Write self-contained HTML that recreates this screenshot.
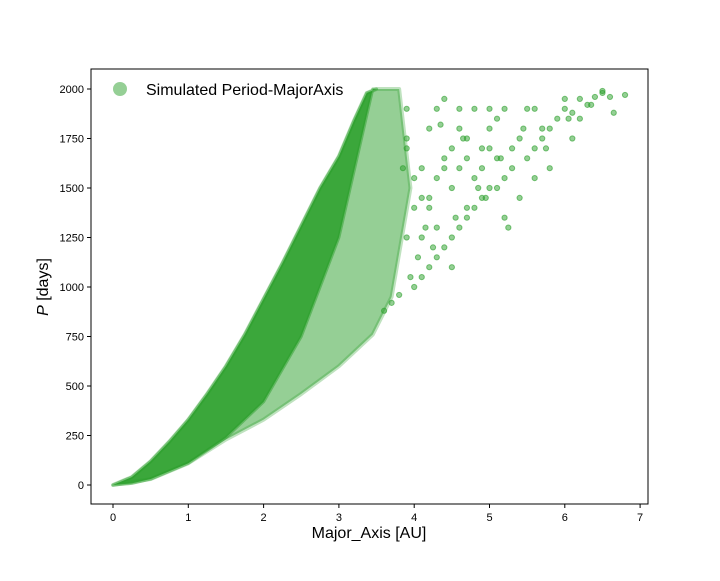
<!DOCTYPE html>
<html><head><meta charset="utf-8"><style>
body{margin:0;background:#fff;font-family:"Liberation Sans",sans-serif}
svg text{font-family:"Liberation Sans",sans-serif}
</style></head><body>
<svg id="chart" width="720" height="576" xmlns="http://www.w3.org/2000/svg">
<rect width="720" height="576" fill="#fff"/>
<g id="plot"></g>
<rect x="91" y="69" width="557" height="435" fill="none" stroke="#000" stroke-width="1"/>
<g id="axes"></g>
<text x="369" y="538" font-size="16" text-anchor="middle">Major_Axis [AU]</text>
<text transform="translate(48,287) rotate(-90)" font-size="16" text-anchor="middle"><tspan font-style="italic">P</tspan> [days]</text>
<g>
<circle cx="120" cy="89" r="7" fill="#2ca02c" fill-opacity="0.5"/>
<text x="146" y="95" font-size="16">Simulated Period-MajorAxis</text>
</g>
</svg>
<script>
const xTicks=[0,1,2,3,4,5,6,7];
const yTicks=[0,250,500,750,1000,1250,1500,1750,2000];
// upper edge of the point cloud
const upperA=[0,0.25,0.5,0.75,1,1.25,1.5,1.75,2,2.25,2.5,2.75,3,3.2,3.37,3.5];
const upperP=[0,40,120,220,330,460,600,760,940,1120,1310,1500,1660,1840,1980,2000];
// lower edge of solid (very dense) region
const solidLowA=[3.45,3.3,3,2.5,2,1.5,1,0.5,0.25,0];
const solidLowP=[2000,1750,1250,750,420,240,110,30,8,0];
// lower edge of medium density region
const medLowA=[3.8,3.95,3.7,3.45,3,2.5,2,1.5,1,0.5,0];
const medLowP=[2000,1500,950,760,600,460,330,230,110,30,0];
// sparse scattered points [a,P]
const ptsA=[3.6,3.7,3.8,3.9,3.9,4.0,4.0,4.1,4.1,4.2,4.2,4.3,4.3,4.4,4.4,4.5,4.5,4.6,4.6,4.7,4.7,4.8,4.8,4.9,4.9,5.0,5.0,5.1,5.1,5.2,5.2,5.3,5.4,5.4,5.5,5.6,5.6,5.7,5.8,5.9,6.0,6.1,6.2,6.3,6.4,6.5,6.6,6.8,3.9,4.1,4.3,4.5,4.7,4.9,5.1,5.3,5.5,5.7,6.0,6.2,6.5,4.2,4.4,4.6,4.8,5.0,4.1,4.4,4.7,5.2,5.6,6.1,4.5,5.0,5.8,4.3,4.6,4.25,4.55,4.85,5.15,5.45,5.75,6.05,6.35,6.65,4.35,4.65,4.95,5.25,3.85,3.95,4.05,4.15,4.0,3.9,4.2];
const ptsP=[880,920,960,1250,1900,1000,1400,1050,1600,1100,1800,1150,1300,1200,1950,1250,1500,1300,1800,1350,1650,1400,1900,1450,1700,1500,1800,1500,1650,1550,1900,1600,1450,1750,1650,1700,1900,1750,1800,1850,1900,1880,1950,1920,1960,1980,1960,1970,1700,1250,1550,1700,1400,1600,1850,1700,1900,1800,1950,1850,1990,1450,1650,1900,1550,1700,1450,1600,1750,1350,1550,1750,1100,1900,1600,1900,1600,1200,1350,1500,1650,1800,1700,1850,1920,1880,1820,1750,1450,1300,1600,1050,1150,1300,1550,1750,1400,1000];
const X=a=>113+a*75.3, Y=p=>485-p*0.198;
const ns="http://www.w3.org/2000/svg";
const plot=document.getElementById('plot'), axes=document.getElementById('axes');
function mk(t,attrs,parent){const e=document.createElementNS(ns,t);for(const k in attrs)e.setAttribute(k,attrs[k]);parent.appendChild(e);return e;}
xTicks.forEach(v=>{
 const l=mk('line',{x1:X(v),x2:X(v),y1:504,y2:508,stroke:'#000'},axes);
 
 
 const t=mk('text',{x:X(v),y:521,'font-size':11,'text-anchor':'middle'},axes);t.textContent=v;
 
 
});
yTicks.forEach(v=>{
 const l=mk('line',{x1:87,x2:91,y1:Y(v),y2:Y(v),stroke:'#000'},axes);
 
 
 const t=mk('text',{x:84,y:Y(v)+4,'font-size':11,'text-anchor':'end'},axes);t.textContent=v;
 
 
});
function bandPath(lowA,lowP){
 let d='';
 upperA.forEach((a,i)=>{d+=(i?'L':'M')+X(a)+','+Y(upperP[i]);});
 lowA.forEach((a,i)=>{d+='L'+X(a)+','+Y(lowP[i]);});
 return d+'Z';
}
const med=mk('path',{d:bandPath(medLowA,medLowP),fill:'#2ca02c','fill-opacity':0.5,stroke:'#2ca02c','stroke-opacity':0.3,'stroke-width':4,'stroke-linejoin':'round'},plot);


const band=mk('path',{d:bandPath(solidLowA,solidLowP),fill:'#2ca02c','fill-opacity':0.85,stroke:'#2ca02c','stroke-opacity':0.5,'stroke-width':3,'stroke-linejoin':'round'},plot);


ptsA.forEach((a,i)=>{
 const c=mk('circle',{cx:X(a),cy:Y(ptsP[i]),r:2.6,fill:'#2ca02c','fill-opacity':0.5,stroke:'#2ca02c','stroke-opacity':0.6},plot);
 
 
});
</script>
</body></html>
